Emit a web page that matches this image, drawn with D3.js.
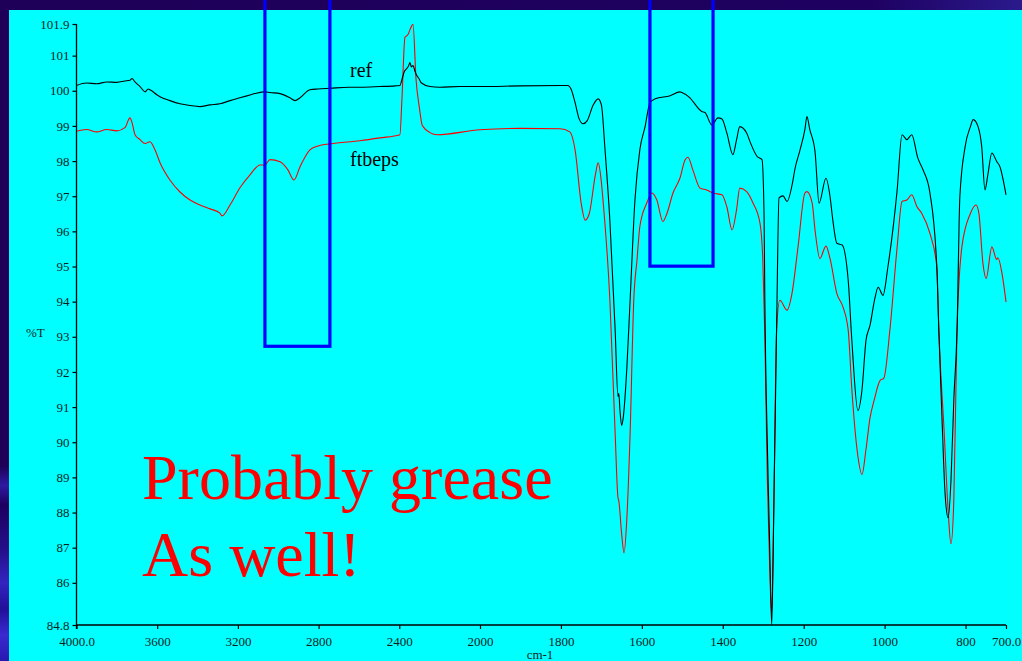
<!DOCTYPE html>
<html>
<head>
<meta charset="utf-8">
<script src="https://cdn.jsdelivr.net/npm/d3@7"></script>
<style>
  html, body { margin: 0; padding: 0; background: #1e0056; }
  svg { display: block; }
</style>
</head>
<body>
<svg id="chart" width="1022" height="661"></svg>
<script>
// IR spectra: wavenumber (cm-1) and transmittance (%T)
const refSpectrum = [
  [4000,100.15],[3950,100.22],[3900,100.2],[3850,100.25],[3800,100.24],[3760,100.28],[3735,100.3],
  [3725,100.35],[3710,100.25],[3685,100.12],[3660,99.97],[3645,100.05],[3636,100.03],[3600,99.88],
  [3586,99.83],[3537,99.72],[3487,99.63],[3437,99.58],[3388,99.55],[3338,99.6],[3289,99.63],
  [3239,99.72],[3190,99.8],[3140,99.88],[3115,99.92],[3066,99.97],[3041,99.95],[2991,99.92],
  [2942,99.8],[2917,99.72],[2892,99.8],[2843,100.03],[2803,100.05],[2744,100.07],[2650,100.1],
  [2595,100.1],[2496,100.12],[2420,100.14],[2397,100.15],[2387,100.32],[2375,100.55],[2365,100.62],
  [2355,100.7],[2347,100.8],[2340,100.68],[2332,100.72],[2322,100.55],[2312,100.42],[2305,100.37],
  [2290,100.22],[2248,100.12],[2200,100.1],[2100,100.12],[2000,100.12],[1900,100.14],[1800,100.15],
  [1783,100.15],[1775,100.05],[1765,99.66],[1755,99.2],[1745,99.06],[1735,99.15],[1720,99.6],
  [1708,99.77],[1700,99.6],[1691,98.32],[1679,96.3],[1666,93.2],[1659,91.3],[1657,91.39],
  [1654,90.9],[1650,90.48],[1646,90.7],[1637,92.13],[1629,94.04],[1617,96.9],[1605,98.32],
  [1592,98.98],[1580,99.66],[1567,99.77],[1530,99.86],[1506,99.97],[1501,99.95],[1481,99.8],
  [1474,99.7],[1452,99.41],[1444,99.38],[1427,99.03],[1412,99.23],[1402,99.2],[1390,98.8],
  [1375,98.18],[1366,98.6],[1358,98.98],[1341,98.8],[1333,98.56],[1315,98.13],[1303,98.04],
  [1298,96.5],[1296,94.0],[1290,90.0],[1283,86.5],[1279,84.8],[1274,88.0],[1267,93.19],
  [1261,96.95],[1251,97.01],[1241,96.85],[1229,97.3],[1221,97.81],[1209,98.32],[1197,98.9],
  [1192,99.27],[1185,98.9],[1172,98.27],[1162,96.8],[1145,97.51],[1135,97.0],[1128,96.32],
  [1118,95.66],[1105,95.61],[1090,94.61],[1081,92.9],[1066,90.9],[1056,91.48],[1046,92.9],
  [1036,93.33],[1024,94.1],[1016,94.41],[1004,94.18],[992,94.98],[969,97.18],[957,98.75],
  [945,98.61],[933,98.75],[918,98.09],[905,97.75],[888,97.09],[871,94.99],[866,93.19],
  [858,90.62],[851,88.62],[843,87.85],[836,88.91],[829,91.19],[821,93.19],[814,96.99],
  [801,98.41],[788,98.98],[781,99.18],[769,98.98],[760,98.41],[752,97.18],[745,97.6],
  [735,98.23],[723,97.99],[715,97.84],[700,97.04]
];

const sampleSpectrum = [
  [4000,98.85],[3950,98.9],[3900,98.83],[3850,98.9],[3800,98.86],[3760,98.95],[3735,99.23],
  [3725,99.1],[3710,98.75],[3685,98.61],[3660,98.5],[3636,98.55],[3611,98.32],[3586,97.95],
  [3537,97.46],[3487,97.12],[3437,96.89],[3388,96.75],[3338,96.64],[3289,96.52],[3279,96.44],
  [3239,96.75],[3190,97.24],[3140,97.61],[3090,97.89],[3066,97.89],[3041,98.04],[2991,97.98],
  [2952,97.75],[2922,97.46],[2892,97.84],[2843,98.32],[2803,98.43],[2744,98.49],[2595,98.58],
  [2496,98.66],[2397,98.75],[2387,99.75],[2372,101.52],[2357,101.6],[2347,101.74],[2332,101.89],
  [2317,100.32],[2300,99.5],[2287,99.03],[2282,98.98],[2248,98.81],[2213,98.75],[2000,98.89],
  [1900,98.93],[1802,98.92],[1778,98.83],[1765,98.32],[1750,96.8],[1740,96.32],[1730,96.5],
  [1715,97.6],[1708,97.95],[1700,97.4],[1696,96.89],[1679,94.04],[1666,90.25],[1659,88.42],
  [1657,88.34],[1650,87.4],[1644,86.85],[1637,87.85],[1629,90.25],[1620,94.04],[1612,95.18],
  [1605,96.13],[1588,96.8],[1575,97.09],[1563,96.89],[1548,96.28],[1538,96.51],[1523,97.09],
  [1506,97.51],[1493,98.04],[1486,98.11],[1474,97.75],[1456,97.23],[1440,97.18],[1424,97.09],
  [1402,97.04],[1390,96.7],[1377,96.04],[1366,96.61],[1358,97.23],[1341,97.13],[1325,96.8],
  [1308,96.23],[1301,95.18],[1296,93.0],[1290,89.0],[1283,86.0],[1279,85.14],[1274,88.0],
  [1267,93.19],[1259,94.04],[1241,93.76],[1229,94.23],[1214,95.56],[1197,97.09],[1192,97.13],
  [1179,96.8],[1172,96.04],[1160,95.23],[1145,95.58],[1135,95.23],[1118,94.23],[1103,93.85],
  [1090,93.19],[1081,91.5],[1066,89.6],[1056,89.08],[1046,89.8],[1036,90.7],[1026,91.19],
  [1011,91.76],[1002,91.82],[987,93.19],[969,95.56],[957,96.85],[945,96.89],[933,97.04],
  [920,96.7],[908,96.51],[888,95.94],[871,94.99],[866,93.19],[853,90.33],[843,88.05],
  [836,87.11],[829,88.34],[821,93.19],[809,95.56],[788,96.51],[774,96.75],[767,96.51],
  [757,95.09],[749,94.66],[735,95.56],[723,95.2],[720,95.25],[710,94.81],[700,93.99]
];

// Axis ticks
const wnTicks  = [4000,3600,3200,2800,2400,2000,1800,1600,1400,1200,1000,800,700];
const wnLabels = ["4000.0","3600","3200","2800","2400","2000","1800","1600","1400","1200","1000","800","700.0"];
const pctTicks  = [101.9,101,100,99,98,97,96,95,94,93,92,91,90,89,88,87,86,84.8];
const pctLabels = ["101.9","101","100","99","98","97","96","95","94","93","92","91","90","89","88","87","86","84.8"];

// Highlighted wavenumber ranges [high, low] and the %T of the box bottom
const boxRanges  = [[3066,2744],[1580,1424]];
const boxBottoms = [92.73,95.01];

const seriesNames = ["ref","ftbeps"];

const svg = d3.select("#chart");
const W = 1022, H = 661;

// Slide background
const defs = svg.append("defs");
const gTop = defs.append("linearGradient").attr("id","topGrad").attr("x1","0").attr("x2","1").attr("y1","0").attr("y2","0");
gTop.append("stop").attr("offset","0").attr("stop-color","#1e0058");
gTop.append("stop").attr("offset","0.85").attr("stop-color","#1e0060");
gTop.append("stop").attr("offset","1").attr("stop-color","#2a1a8c");
const gLeft = defs.append("linearGradient").attr("id","leftGrad").attr("x1","0").attr("x2","0").attr("y1","0").attr("y2","1");
[["0","#1e0058"],["0.7","#1e0058"],["0.73","#2e1aa0"],["0.76","#1e0060"],["0.83","#24108a"],
 ["0.88","#3424c0"],["0.92","#221098"],["0.96","#3a2ad0"],["1","#2818b0"]].forEach(([o,c]) =>
  gLeft.append("stop").attr("offset",o).attr("stop-color",c));

svg.append("rect").attr("width",W).attr("height",H).attr("fill","url(#topGrad)");
svg.append("rect").attr("x",0).attr("y",10).attr("width",9).attr("height",H-10).attr("fill","url(#leftGrad)");
svg.append("rect").attr("x",9).attr("y",10).attr("width",W-9).attr("height",H-10).attr("fill","#00ffff");

// Scales: wavenumber axis is expanded 2x below 2000 cm-1
const x = d3.scaleLinear().domain([4000,2000,700]).range([76.5,480,1006]);
const y = d3.scaleLinear().domain([84.8,101.9]).range([625,24]);

const serif = "'Liberation Serif','Times New Roman',serif";

// Y axis
const yAxis = svg.append("g")
  .attr("transform","translate(76.5,0)")
  .call(d3.axisLeft(y).tickValues(pctTicks).tickFormat((d,i)=>pctLabels[i]).tickSize(4).tickSizeOuter(0));
yAxis.select(".domain").remove();
svg.append("line").attr("x1",76.5).attr("x2",76.5).attr("y1",y(101.9)).attr("y2",629)
  .attr("stroke","#000").attr("stroke-width",1.3);

// X axis
const xAxis = svg.append("g")
  .attr("transform","translate(0,625)")
  .call(d3.axisBottom(x).tickValues(wnTicks).tickFormat((d,i)=>wnLabels[i]).tickSize(4).tickSizeOuter(0).tickPadding(8));
xAxis.select(".domain").remove();
svg.append("line").attr("x1",76.5).attr("x2",1006).attr("y1",625).attr("y2",625)
  .attr("stroke","#000").attr("stroke-width",1.3);

[yAxis, xAxis].forEach(g => {
  g.selectAll("text").attr("font-family",serif).attr("font-size",13).attr("fill","#0a1e1e");
  g.selectAll(".tick line").attr("stroke","#000").attr("stroke-width",1.2);
});

// Axis titles
svg.append("text").attr("x",26).attr("y",337).text("%T")
  .attr("font-family",serif).attr("font-size",13).attr("fill","#0a1e1e");
svg.append("text").attr("x",540).attr("y",659).attr("text-anchor","middle").text("cm-1")
  .attr("font-family",serif).attr("font-size",13).attr("fill","#0a1e1e");

// Spectra
const line = d3.line().x(d=>x(d[0])).y(d=>y(d[1])).curve(d3.curveMonotoneX);
svg.append("path").datum(sampleSpectrum).attr("d",line)
  .attr("fill","none").attr("stroke","#ff0000").attr("stroke-width",1.1);
svg.append("path").datum(refSpectrum).attr("d",line)
  .attr("fill","none").attr("stroke","#000000").attr("stroke-width",1.1);

// Series labels
svg.append("text").attr("x",350).attr("y",77).text(seriesNames[0])
  .attr("font-family",serif).attr("font-size",20).attr("fill","#000");
svg.append("text").attr("x",350).attr("y",166).text(seriesNames[1])
  .attr("font-family",serif).attr("font-size",20).attr("fill","#000");

// Highlight boxes (open past the top of the slide)
boxRanges.forEach((r,i) => {
  const x0 = x(r[0]), x1 = x(r[1]), yb = y(boxBottoms[i]);
  svg.append("rect").attr("x",x0).attr("y",-20).attr("width",x1-x0).attr("height",yb+20)
    .attr("fill","none").attr("stroke","#0000ff").attr("stroke-width",3.2);
});

// Annotation
const note = svg.append("text").attr("font-family",serif).attr("font-size",64).attr("fill","#ff0000");
note.append("tspan").attr("x",142).attr("y",499).text("Probably grease");
note.append("tspan").attr("x",142).attr("y",576).text("As well!");
</script>
</body>
</html>
